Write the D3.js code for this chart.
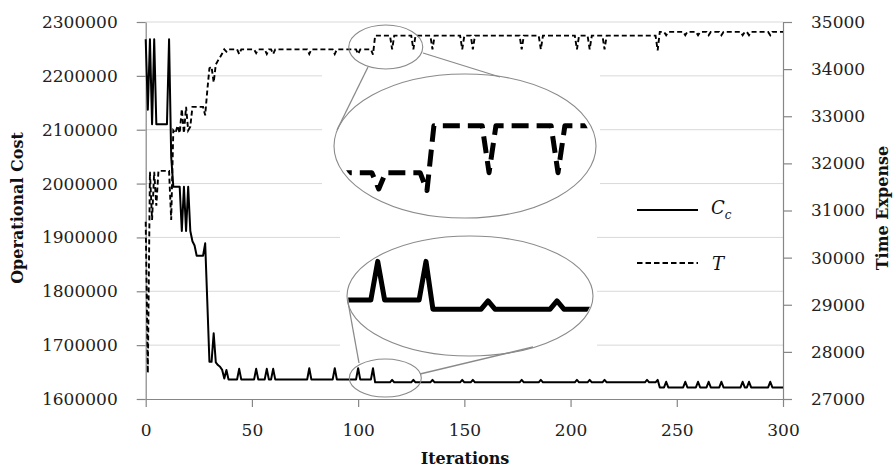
<!DOCTYPE html>
<html><head><meta charset="utf-8">
<script src="https://cdn.jsdelivr.net/npm/d3@7"></script>
<style>body{margin:0;background:#fff}svg{display:block}</style>
</head><body><svg id="c" width="893" height="469"></svg>
<script>
// ---------- data ----------
const xTicks = [0, 50, 100, 150, 200, 250, 300];
const costTicks = [1600000, 1700000, 1800000, 1900000, 2000000, 2100000, 2200000, 2300000];
const timeTicks = [27000, 28000, 29000, 30000, 31000, 32000, 33000, 34000, 35000];
const legendLabels = ["C", "T"];
const axisTitles = ["Operational Cost", "Iterations", "Time Expense"];

// Operational cost C_c per iteration 0..300
const cost = [
2268000,2137000,2268000,2110000,2268000,2110000,2110000,2110000,2110000,2110000,
2110000,2268000,2050000,1994000,1994000,1994000,1994000,1912000,1994000,1912000,
1994000,1912000,1893000,1885000,1866000,1866000,1866000,1866000,1889000,1780000,
1669000,1669000,1722000,1668000,1663000,1660000,1654000,1638000,1654000,1636000,
1636000,1636000,1636000,1636000,1656000,1636000,1636000,1636000,1636000,1636000,
1636000,1636000,1656000,1636000,1636000,1636000,1636000,1656000,1636000,1636000,
1656000,1636000,1636000,1636000,1636000,1636000,1636000,1636000,1636000,1636000,
1636000,1636000,1636000,1636000,1636000,1636000,1636000,1657000,1636000,1636000,
1636000,1636000,1636000,1636000,1636000,1636000,1636000,1636000,1636000,1657000,
1636000,1636000,1636000,1636000,1636000,1636000,1636000,1636000,1636000,1636000,
1657000,1636000,1636000,1636000,1636000,1636000,1636000,1657000,1631000,1631000,
1631000,1631000,1631000,1631000,1631000,1631000,1635500,1631000,1631000,1631000,
1631000,1631000,1631000,1631000,1631000,1631000,1635500,1631000,1631000,1631000,
1631000,1631000,1631000,1631000,1631000,1635500,1631000,1631000,1631000,1631000,
1631000,1631000,1631000,1631000,1631000,1631000,1631000,1631000,1631000,1635500,
1631000,1631000,1631000,1631000,1635500,1631000,1631000,1631000,1631000,1631000,
1631000,1631000,1631000,1631000,1631000,1631000,1631000,1631000,1631000,1631000,
1631000,1631000,1631000,1631000,1631000,1631000,1631000,1635500,1631000,1631000,
1631000,1631000,1631000,1631000,1631000,1631000,1635500,1631000,1631000,1631000,
1631000,1631000,1631000,1631000,1631000,1631000,1631000,1631000,1631000,1631000,
1631000,1631000,1631000,1635500,1631000,1631000,1631000,1631000,1631000,1635500,
1631000,1631000,1631000,1631000,1631000,1631000,1635500,1631000,1631000,1631000,
1631000,1631000,1631000,1631000,1631000,1631000,1631000,1631000,1631000,1631000,
1631000,1631000,1631000,1631000,1631000,1631000,1635500,1631000,1631000,1631000,
1631000,1635500,1621500,1621500,1621500,1632000,1621500,1621500,1621500,1621500,
1621500,1621500,1621500,1621500,1632000,1621500,1621500,1621500,1621500,1621500,
1632000,1621500,1621500,1621500,1621500,1632000,1621500,1621500,1621500,1621500,
1621500,1632000,1621500,1621500,1621500,1621500,1621500,1621500,1621500,1621500,
1621500,1632000,1621500,1621500,1632000,1621500,1621500,1621500,1621500,1621500,
1621500,1621500,1621500,1621500,1632000,1621500,1621500,1621500,1621500,1621500,
1621500
];

// Time expense T per iteration 0..300
const time = [
30760,27550,31820,30800,31820,31100,31840,31840,31840,31840,
31840,31840,30800,32700,32640,32800,32640,33150,32640,33200,
32700,32780,33200,33200,33200,33200,33200,33200,33020,33550,
34020,34050,33720,34100,34180,34250,34330,34420,34370,34420,
34420,34420,34420,34420,34320,34420,34420,34420,34420,34420,
34420,34420,34340,34420,34420,34420,34420,34320,34420,34420,
34320,34420,34420,34420,34420,34420,34420,34420,34420,34420,
34420,34420,34420,34420,34420,34420,34420,34320,34420,34420,
34420,34420,34420,34420,34420,34420,34420,34420,34420,34320,
34420,34420,34420,34420,34420,34420,34420,34420,34420,34420,
34320,34420,34420,34420,34420,34420,34420,34310,34710,34710,
34710,34710,34710,34710,34710,34710,34420,34710,34710,34710,
34710,34710,34710,34710,34710,34710,34420,34710,34710,34710,
34710,34710,34710,34710,34710,34420,34710,34710,34710,34710,
34710,34710,34710,34710,34710,34710,34710,34710,34710,34420,
34710,34710,34710,34710,34420,34710,34710,34710,34710,34710,
34710,34710,34710,34710,34710,34710,34710,34710,34710,34710,
34710,34710,34710,34710,34710,34710,34710,34420,34710,34710,
34710,34710,34710,34710,34710,34710,34420,34710,34710,34710,
34710,34710,34710,34710,34710,34710,34710,34710,34710,34710,
34710,34710,34710,34420,34710,34710,34710,34710,34710,34420,
34710,34710,34710,34710,34710,34710,34420,34710,34710,34710,
34710,34710,34710,34710,34710,34710,34710,34710,34710,34710,
34710,34710,34710,34710,34710,34710,34710,34710,34710,34710,
34710,34400,34790,34790,34790,34720,34790,34790,34790,34790,
34790,34790,34790,34790,34720,34790,34790,34790,34790,34790,
34720,34790,34790,34790,34790,34720,34790,34790,34790,34790,
34790,34720,34790,34790,34790,34790,34790,34790,34790,34790,
34790,34720,34790,34790,34720,34790,34790,34790,34790,34790,
34790,34790,34790,34790,34720,34790,34790,34790,34790,34790,
34790
];
const iterations = cost.map((d, i) => i);

// ---------- layout ----------
const W = 893, H = 469;
const L = 145.7, R = 783, T0 = 22, B = 399;
const FONT = "'DejaVu Serif', serif";
const svg = d3.select("#c");

const x = d3.scaleLinear().domain([0, 300]).range([L, R]);
const yL = d3.scaleLinear().domain([1600000, 2300000]).range([B, T0]);
const yR = d3.scaleLinear().domain([27000, 35000]).range([B, T0]);

// gridlines
svg.append("g").selectAll("line").data(costTicks.slice(1)).join("line")
  .attr("x1", L).attr("x2", R).attr("y1", d => yL(d)).attr("y2", d => yL(d))
  .attr("stroke", "#d9d9d9").attr("stroke-width", 1);

// white backgrounds of zoom insets
svg.append("rect").attr("x", 322).attr("y", 70).attr("width", 278).attr("height", 155).attr("fill", "#fff");
svg.append("rect").attr("x", 340).attr("y", 232).attr("width", 257).attr("height", 125).attr("fill", "#fff");

// axes
function styleAxis(g) {
  g.select(".domain").attr("stroke", "#868686").attr("stroke-width", 1.2);
  g.selectAll(".tick line").attr("stroke", "#868686").attr("stroke-width", 1.2);
  g.selectAll("text").attr("font-family", FONT).attr("font-size", 17).attr("fill", "#222");
}
svg.append("g").attr("transform", `translate(${L},0)`)
  .call(d3.axisLeft(yL).tickValues(costTicks).tickSize(9).tickSizeOuter(0).tickPadding(19).tickFormat(d3.format("d")))
  .call(styleAxis);
svg.append("g").attr("transform", `translate(${R},0)`)
  .call(d3.axisRight(yR).tickValues(timeTicks).tickSize(9).tickSizeOuter(0).tickPadding(19).tickFormat(d3.format("d")))
  .call(styleAxis);
svg.append("g").attr("transform", `translate(0,${B})`)
  .call(d3.axisBottom(x).tickValues(xTicks).tickSize(8).tickSizeOuter(0).tickPadding(17).tickFormat(d3.format("d")))
  .call(styleAxis);

// axis titles
svg.append("text").attr("transform", `translate(23,208) rotate(-90)`).attr("text-anchor", "middle")
  .attr("font-family", FONT).attr("font-weight", "bold").attr("font-size", 16).attr("fill", "#111").text(axisTitles[0]);
svg.append("text").attr("x", 465).attr("y", 464).attr("text-anchor", "middle")
  .attr("font-family", FONT).attr("font-weight", "bold").attr("font-size", 16).attr("fill", "#111").text(axisTitles[1]);
svg.append("text").attr("transform", `translate(888,208) rotate(-90)`).attr("text-anchor", "middle")
  .attr("font-family", FONT).attr("font-weight", "bold").attr("font-size", 16).attr("fill", "#111").text(axisTitles[2]);

// main series
const lineCost = d3.line().x((d, i) => x(iterations[i])).y(d => yL(d));
const lineTime = d3.line().x((d, i) => x(iterations[i])).y(d => yR(d));
svg.append("path").attr("d", lineTime(time)).attr("fill", "none").attr("stroke", "#000")
  .attr("stroke-width", 1.9).attr("stroke-dasharray", "5,3");
svg.append("path").attr("d", lineCost(cost)).attr("fill", "none").attr("stroke", "#000")
  .attr("stroke-width", 2).attr("stroke-linejoin", "round");

// legend
const lg = svg.append("g");
lg.append("line").attr("x1", 637).attr("x2", 698).attr("y1", 210).attr("y2", 210).attr("stroke", "#000").attr("stroke-width", 2);
lg.append("line").attr("x1", 637).attr("x2", 698).attr("y1", 263).attr("y2", 263).attr("stroke", "#000").attr("stroke-width", 2).attr("stroke-dasharray", "5.5,3");
const tC = lg.append("text").attr("x", 711).attr("y", 214).attr("font-family", FONT).attr("font-style", "italic").attr("font-size", 18).attr("fill", "#111");
tC.append("tspan").text(legendLabels[0]);
tC.append("tspan").attr("dy", 5).attr("font-size", 12).text("c");
lg.append("text").attr("x", 712).attr("y", 270).attr("font-family", FONT).attr("font-style", "italic").attr("font-size", 18).attr("fill", "#111").text(legendLabels[1]);

// ---------- zoom insets ----------
const ell = { tS: [x(113), 47, 37, 22], tB: [465, 146, 131, 72], bS: [x(112.8), 378, 36, 19], bB: [470, 296, 123, 60] };
const defs = svg.append("defs");
defs.append("clipPath").attr("id", "clipTop").append("ellipse")
  .attr("cx", ell.tB[0]).attr("cy", ell.tB[1]).attr("rx", ell.tB[2] - 4).attr("ry", ell.tB[3] - 3);
defs.append("clipPath").attr("id", "clipBot").append("ellipse")
  .attr("cx", ell.bB[0]).attr("cy", ell.bB[1]).attr("rx", ell.bB[2] - 1).attr("ry", ell.bB[3] - 2);

const gray = "#8a8a8a";
function ellipse(e) {
  svg.append("ellipse").attr("cx", e[0]).attr("cy", e[1]).attr("rx", e[2]).attr("ry", e[3])
    .attr("fill", "none").attr("stroke", gray).attr("stroke-width", 1.1);
}
function conn(a, b) {
  svg.append("line").attr("x1", a[0]).attr("y1", a[1]).attr("x2", b[0]).attr("y2", b[1])
    .attr("stroke", gray).attr("stroke-width", 1.3);
}
ellipse(ell.tS); ellipse(ell.tB); ellipse(ell.bS); ellipse(ell.bB);
conn([368, 67], [337, 130]); conn([423, 53], [500, 77]);
conn([359, 363], [348, 302]); conn([420, 374], [533, 347]);

// magnified scales
const xMagT = d3.scaleLinear().domain([107, 126]).range([427, 558]);
const yMagT = d3.scaleLinear().domain([34420, 34710]).range([172.7, 125.7]);
const xMagC = d3.scaleLinear().domain([107, 126]).range([426, 557]);
const yMagC = d3.scaleLinear().domain([1631000, 1636000]).range([309.2, 300]);
const win = iterations.filter(i => i >= 90 && i <= 135);

svg.append("path").attr("clip-path", "url(#clipTop)")
  .attr("d", d3.line().x(i => xMagT(i)).y(i => yMagT(time[i]))(win))
  .attr("fill", "none").attr("stroke", "#000").attr("stroke-width", 5)
  .attr("stroke-dasharray", "17,8").attr("stroke-linejoin", "round");
svg.append("path").attr("clip-path", "url(#clipBot)")
  .attr("d", d3.line().x(i => xMagC(i)).y(i => yMagC(cost[i]))(win))
  .attr("fill", "none").attr("stroke", "#000").attr("stroke-width", 5).attr("stroke-linejoin", "round");
</script></body></html>
